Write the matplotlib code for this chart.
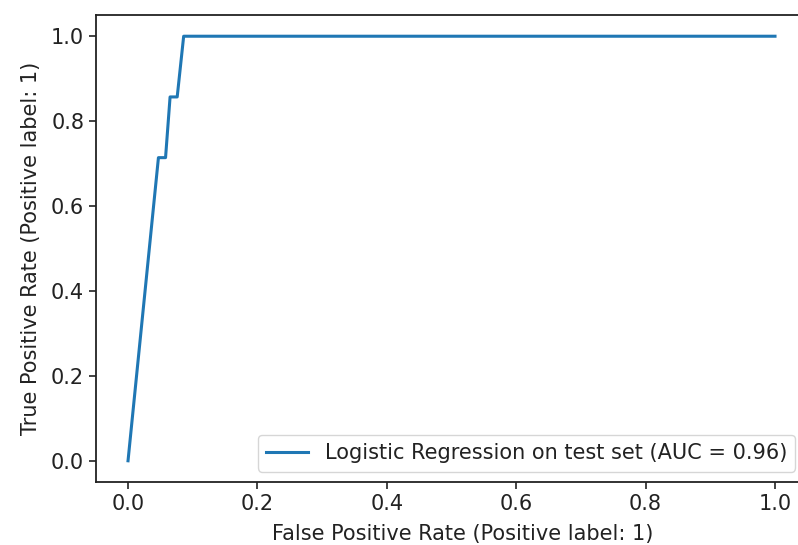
import matplotlib
matplotlib.use('Agg')
import matplotlib.pyplot as plt

# ROC curve
fpr = [0.0, 0.047, 0.058, 0.065, 0.076, 0.086, 1.0]
tpr = [0.0, 0.714, 0.714, 0.857, 0.857, 1.0, 1.0]
label = 'Logistic Regression on test set (AUC = 0.96)'
ticks = [0.0, 0.2, 0.4, 0.6, 0.8, 1.0]

plt.rcParams['font.size'] = 15
plt.rcParams['text.color'] = '#222222'
plt.rcParams['axes.labelcolor'] = '#222222'
plt.rcParams['xtick.color'] = '#222222'
plt.rcParams['ytick.color'] = '#222222'
plt.rcParams['axes.edgecolor'] = '#222222'
plt.rcParams['axes.linewidth'] = 1.3
plt.rcParams['xtick.major.size'] = 5
plt.rcParams['ytick.major.size'] = 5
plt.rcParams['xtick.major.width'] = 1.2
plt.rcParams['ytick.major.width'] = 1.2

fig = plt.figure(figsize=(7.98, 5.45), dpi=100)
# the right side of the original axes is cropped off the image
ax = fig.add_axes([96 / 798, 63 / 545, 734 / 798, 467 / 545])
ax.plot(fpr, tpr, color='#1f77b4', linewidth=2.2, label=label)
ax.set_xlim(-0.0495, 1.085)
ax.set_ylim(-0.05, 1.05)
ax.set_xlabel('False Positive Rate (Positive label: 1)', labelpad=7)
ax.set_ylabel('True Positive Rate (Positive label: 1)', labelpad=7.5)
ax.set_xticks(ticks)
ax.set_yticks(ticks)
ax.legend(loc='lower right', bbox_to_anchor=(0.967, 0.0))

fig.savefig('out.png', dpi=100)
